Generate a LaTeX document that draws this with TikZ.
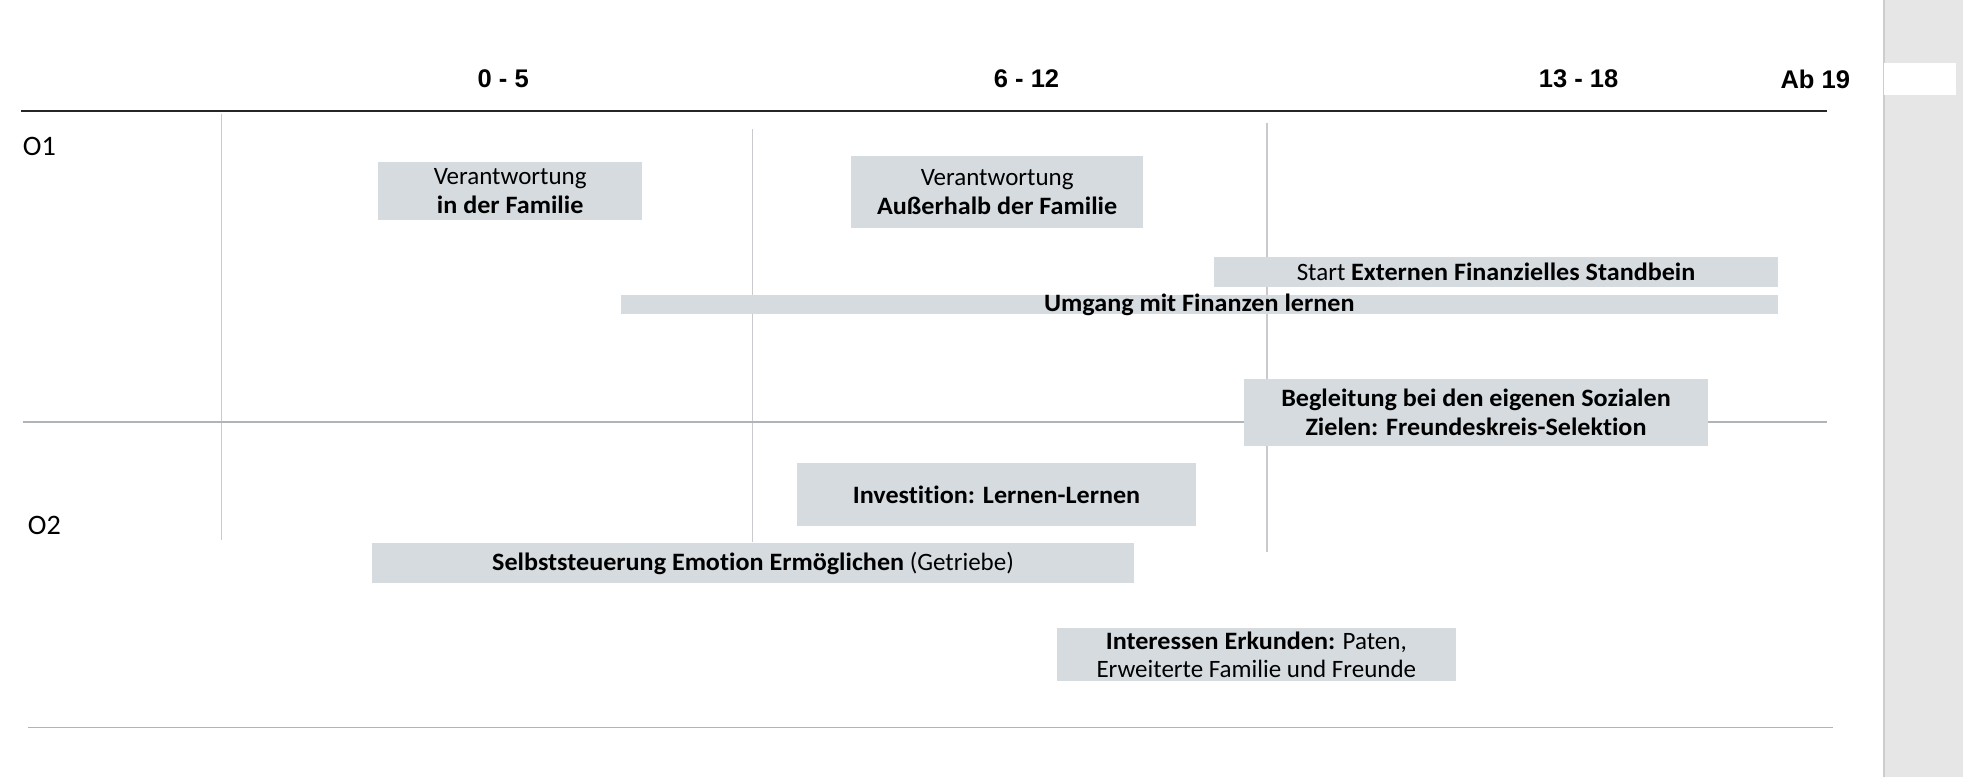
\documentclass[tikz,border=0pt]{standalone}
\usepackage{fontspec}
\setmainfont[Ligatures=NoCommon, BoldFeatures={FakeStretch=1.045}]{Carlito}
\newfontfamily\hdfont{Liberation Sans}
\definecolor{boxfill}{RGB}{214,219,223}
\definecolor{gridv}{RGB}{200,202,205}
\definecolor{gridh}{RGB}{175,180,186}
\definecolor{sidepanel}{RGB}{230,230,230}
\definecolor{sideedge}{RGB}{205,205,205}
\tikzset{
  boxtext/.style={inner sep=0pt, align=center, font=\fontsize{14.2}{16.4}\selectfont},
  rowlabel/.style={inner sep=0pt, anchor=west, font=\fontsize{16}{19}\selectfont},
  agehead/.style={inner sep=0pt, font=\hdfont\bfseries\fontsize{14.5}{17}\selectfont},
  vline/.style={gridv, line width=0.9pt},
  hline/.style={gridh, line width=0.9pt}
}
% a filled bar from (x1,y1) to (x2,y2) with its text centred on it
\newcommand\timebar[6]{%
  \fill[boxfill] (#2,#3) rectangle (#4,#5);
  \node[boxtext] (#1) at ({(#2+#4)/2},{(#3+#5)/2}) {#6};
}
\begin{document}
\begin{tikzpicture}[x=0.025cm,y=-0.025cm]
\useasboundingbox (0,0) rectangle (1568,621);
\fill[white] (0,0) rectangle (1568,621);

% side panel
\fill[sidepanel] (1505,0) rectangle (1568,621);
\draw[sideedge, line width=0.8pt] (1505,0) -- (1505,621);
\fill[white] (1505,50) rectangle (1562,76);

% grid
\draw[vline] (177,91) -- (177,431);
\draw[vline] (601,103) -- (601,433);
\draw[vline] (1012,98) -- (1012,441);
\draw[hline] (18,337) -- (1459,337);
\draw[hline] (22,581) -- (1464,581);
\draw[black!85, line width=1.1pt] (17,89) -- (1459,89);

% age headers
\node[agehead] (h1) at (402,63) {0 - 5};
\node[agehead] (h2) at (820,63) {6 - 12};
\node[agehead] (h3) at (1261,63) {13 - 18};
\node[agehead] (h4) at (1450,63) {Ab 19};

% row labels
\node[rowlabel] (o1) at (18,117) {O1};
\node[rowlabel] (o2) at (22,420) {O2};

% bars
\timebar{b1}{302}{129}{513}{176}{Verantwortung\\\textbf{in der Familie}}
\timebar{b2}{680}{125}{913}{182}{Verantwortung\\\textbf{Außerhalb der Familie}}
\timebar{b3}{970}{205}{1420}{229}{Start \textbf{Externen Finanzielles Standbein}}
\timebar{b4}{496}{236}{1420}{251}{\textbf{Umgang mit Finanzen lernen}}
\timebar{b5}{994}{303}{1364}{356}{\textbf{Begleitung bei den eigenen Sozialen}\\\textbf{Zielen: Freundeskreis-Selektion}}
\timebar{b6}{637}{370}{955}{420}{\textbf{Investition: Lernen-Lernen}}
\timebar{b7}{297}{434}{906}{466}{\textbf{Selbststeuerung Emotion Ermöglichen} (Getriebe)}
\timebar{b8}{844}{502}{1163}{544}{\textbf{Interessen Erkunden:} Paten,\\Erweiterte Familie und Freunde}
\end{tikzpicture}
\end{document}
